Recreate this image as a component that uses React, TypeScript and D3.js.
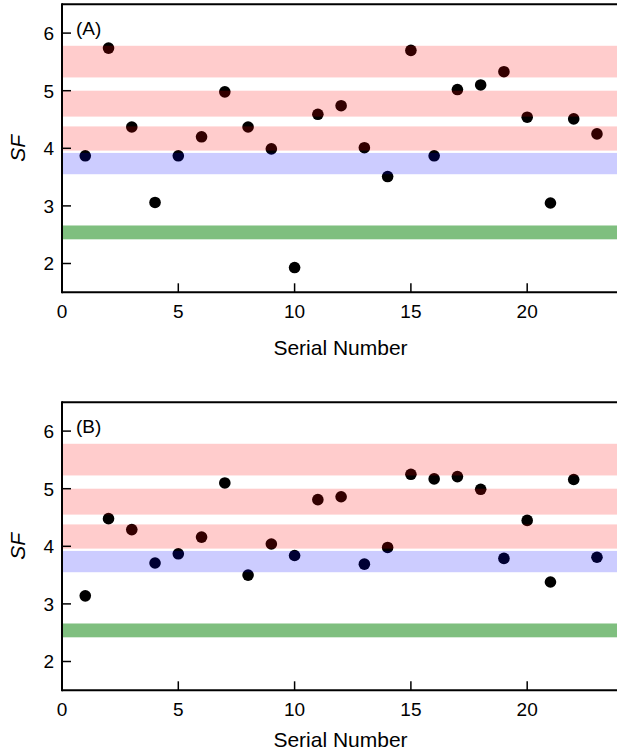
import React from "react";
import * as d3 from "d3";

const serial = d3.range(1, 24);
const sfA = [3.87, 5.74, 4.37, 3.06, 3.87, 4.2, 4.98, 4.37, 3.99, 1.93, 4.59, 4.74, 4.01, 3.51, 5.7, 3.87, 5.02, 5.1, 5.33, 4.54, 3.05, 4.51, 4.25];
const sfB = [3.14, 4.48, 4.29, 3.71, 3.87, 4.16, 5.1, 3.5, 4.04, 3.84, 4.81, 4.86, 3.69, 3.98, 5.25, 5.17, 5.21, 4.99, 3.79, 4.45, 3.38, 5.16, 3.81];
const bandLo = [5.23, 4.55, 3.96, 3.55, 2.42];
const bandHi = [5.78, 5.0, 4.38, 3.92, 2.66];
const bandColor = ["red", "red", "red", "blue", "green"];
const bandAlpha = [0.2, 0.2, 0.2, 0.2, 0.5];
const xTicks = [0, 5, 10, 15, 20];
const yTicks = [2, 3, 4, 5, 6];
const panels = [
  { label: "(A)", values: sfA, top: 4.3, labelGap: 63 },
  { label: "(B)", values: sfB, top: 402.3, labelGap: 57 },
];

const W = 617;
const H = 753;
const left = 62;
const right = 640;
const plotH = 288;
const font = "'Liberation Sans', Arial, sans-serif";

function Panel({ label, values, top, labelGap }: { label: string; values: number[]; top: number; labelGap: number }) {
  const x = d3.scaleLinear().domain([0, 24.85]).range([left, right]);
  const y = d3.scaleLinear().domain([1.5, 6.5]).range([top + plotH, top]);
  const bottom = top + plotH;
  return (
    <g>
      {values.map((v, i) => (
        <circle key={i} cx={x(serial[i])} cy={y(v)} r={5.8} fill="black" />
      ))}
      {bandLo.map((lo, i) => (
        <rect
          key={i}
          x={left}
          width={right - left}
          y={y(bandHi[i])}
          height={y(lo) - y(bandHi[i])}
          fill={bandColor[i]}
          fillOpacity={bandAlpha[i]}
        />
      ))}
      <line x1={left} x2={right} y1={top} y2={top} stroke="black" strokeWidth={2} />
      <line x1={left} x2={right} y1={bottom} y2={bottom} stroke="black" strokeWidth={2} />
      <line x1={left} x2={left} y1={top - 1} y2={bottom + 1} stroke="black" strokeWidth={2} />
      {xTicks.map((t) => (
        <g key={t}>
          {t > 0 && <line x1={x(t)} x2={x(t)} y1={bottom} y2={bottom - 9} stroke="black" strokeWidth={1.5} />}
          <text x={x(t)} y={bottom + 25.5} textAnchor="middle" fontSize={19} fontFamily={font}>
            {t}
          </text>
        </g>
      ))}
      {yTicks.map((t) => (
        <g key={t}>
          <line x1={left} x2={left + 9} y1={y(t)} y2={y(t)} stroke="black" strokeWidth={1.5} />
          <text x={left - 8} y={y(t) + 6.8} textAnchor="end" fontSize={19} fontFamily={font}>
            {t}
          </text>
        </g>
      ))}
      <text x={left + 14} y={top + 30.5} fontSize={19} fontFamily={font}>
        {label}
      </text>
      <text x={(left + W) / 2 + 1} y={bottom + labelGap} textAnchor="middle" fontSize={21} fontFamily={font}>
        Serial Number
      </text>
      <text
        transform={`translate(25, ${(top + bottom) / 2}) rotate(-90)`}
        textAnchor="middle"
        fontSize={21}
        fontStyle="italic"
        fontFamily={font}
      >
        SF
      </text>
    </g>
  );
}

export default function App() {
  return (
    <svg width={W} height={H} style={{ position: "absolute", left: 0, top: 0, background: "white" }}>
      {panels.map((p, i) => (
        <Panel key={i} label={p.label} values={p.values} top={p.top} labelGap={p.labelGap} />
      ))}
    </svg>
  );
}
